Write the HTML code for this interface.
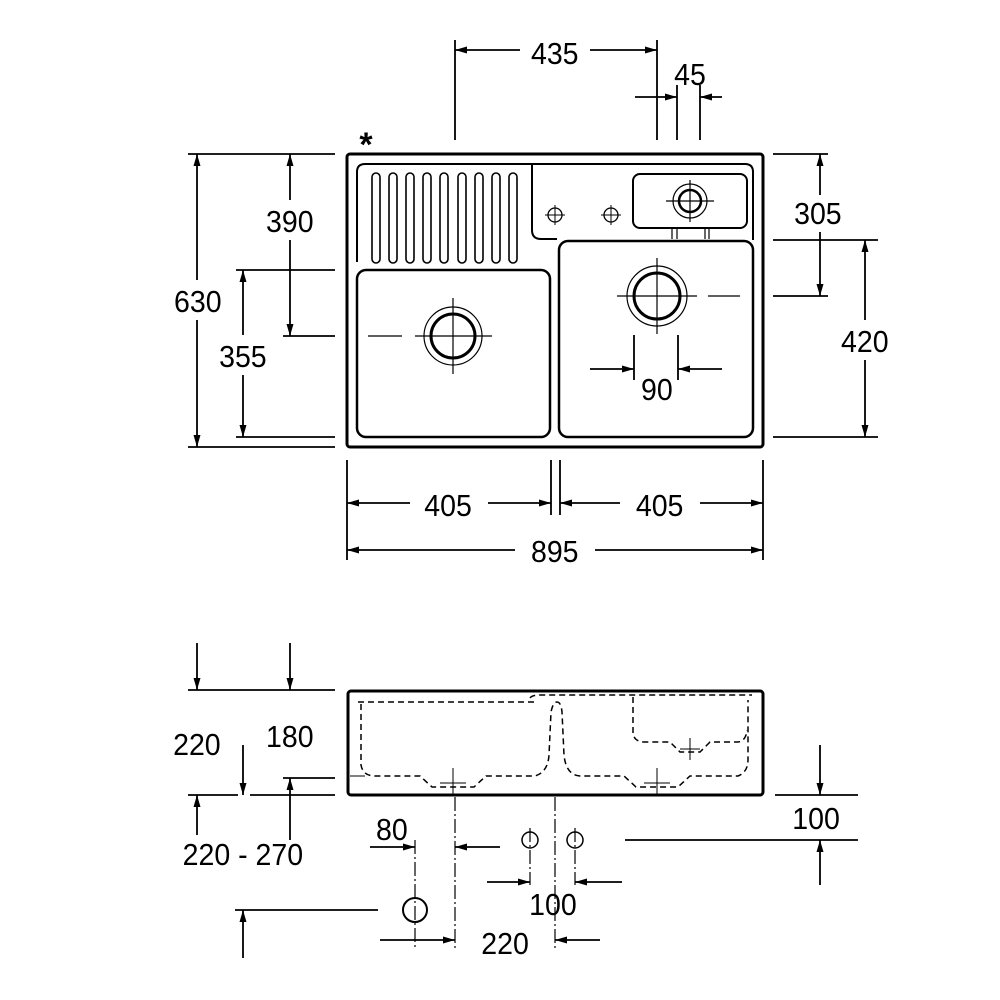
<!DOCTYPE html>
<html><head><style>
html,body{margin:0;padding:0;background:#fff;}
svg{display:block;}
text{font-family:"Liberation Sans",Arial,sans-serif;font-size:31px;fill:#000;text-anchor:middle;}
</style></head><body>
<svg width="1000" height="1000" viewBox="0 0 1000 1000" xmlns="http://www.w3.org/2000/svg">
<defs>
<marker id="a" viewBox="0 0 12 7" refX="12" refY="3.5" markerWidth="12" markerHeight="7" markerUnits="userSpaceOnUse" orient="auto"><path d="M0,0 L12,3.5 L0,7 z" fill="#000"/></marker>
</defs>
<g stroke="#000" fill="none">
<!-- TOP VIEW -->
<rect x="347" y="154" width="416" height="293" rx="3" stroke-width="3"/>
<path d="M365,164 H745 Q753,164 753,172 V240" stroke-width="2"/>
<path d="M357,172 Q357,164 365,164 M357,172 V262" stroke-width="2"/>
<path d="M532,164 V230 Q532,239 541,239 H557" stroke-width="2"/>
<rect x="357" y="270" width="193" height="167" rx="9" stroke-width="2.5"/>
<rect x="559" y="241" width="194" height="196" rx="9" stroke-width="2.5"/>
<rect x="633" y="174" width="114" height="54" rx="7" stroke-width="2"/>
<path d="M672,228V239M677,228V239M705,228V239M709,228V239" stroke-width="1.2"/>
<g stroke-width="1.6">
<rect x="372" y="173" width="8" height="90" rx="4"/><rect x="389" y="173" width="8" height="90" rx="4"/>
<rect x="406" y="173" width="8" height="90" rx="4"/><rect x="423" y="173" width="8" height="90" rx="4"/>
<rect x="440" y="173" width="8" height="90" rx="4"/><rect x="458" y="173" width="8" height="90" rx="4"/>
<rect x="475" y="173" width="8" height="90" rx="4"/><rect x="492" y="173" width="8" height="90" rx="4"/>
<rect x="509" y="173" width="8" height="90" rx="4"/>
</g>
<circle cx="453" cy="336" r="22" stroke-width="3"/><circle cx="453" cy="336" r="29" stroke-width="1.2"/>
<path d="M415,336H492M453,298V374M368,336H402" stroke-width="1.2"/>
<circle cx="657" cy="296" r="23" stroke-width="3"/><circle cx="657" cy="296" r="30" stroke-width="1.2"/>
<path d="M617,296H697M657,258V334M708,296H740" stroke-width="1.2"/>
<circle cx="690" cy="201" r="11" stroke-width="2.5"/><circle cx="690" cy="201" r="17" stroke-width="1.2"/>
<path d="M666,201H714M690,180V222" stroke-width="1.2"/>
<circle cx="555" cy="215" r="7" stroke-width="1.3"/><path d="M545,215H565M555,205V225" stroke-width="1"/>
<circle cx="611" cy="215" r="7" stroke-width="1.3"/><path d="M601,215H621M611,205V225" stroke-width="1"/>

<g stroke-width="1.8">
<path d="M455,40V140M657,40V140M677,85V140M700,85V140"/>
<path d="M520,50H455" marker-end="url(#a)"/><path d="M590,50H657" marker-end="url(#a)"/>
<path d="M635,97H677" marker-end="url(#a)"/><path d="M722,97H700" marker-end="url(#a)"/>
<path d="M188,154H335M188,447H335M283,336H335M236,270H335M236,437H335"/>
<path d="M197,280V154" marker-end="url(#a)"/><path d="M197,320V447" marker-end="url(#a)"/>
<path d="M290,200V154" marker-end="url(#a)"/><path d="M290,240V336" marker-end="url(#a)"/>
<path d="M243,335V270" marker-end="url(#a)"/><path d="M243,375V437" marker-end="url(#a)"/>
<path d="M773,154H828M773,296H828M773,240H878M773,437H878"/>
<path d="M820,195V154" marker-end="url(#a)"/><path d="M820,232V296" marker-end="url(#a)"/>
<path d="M865,320V240" marker-end="url(#a)"/><path d="M865,360V437" marker-end="url(#a)"/>
<path d="M347,460V560M551,460V515M560,460V515M763,460V560"/>
<path d="M410,503H347" marker-end="url(#a)"/><path d="M488,503H551" marker-end="url(#a)"/>
<path d="M620,503H560" marker-end="url(#a)"/><path d="M700,503H763" marker-end="url(#a)"/>
<path d="M515,550H347" marker-end="url(#a)"/><path d="M595,550H763" marker-end="url(#a)"/>
<path d="M634,335V380M678,335V380"/>
<path d="M590,369H634" marker-end="url(#a)"/><path d="M722,369H678" marker-end="url(#a)"/>
</g>

<!-- FRONT VIEW -->
<rect x="348" y="691" width="415" height="104" rx="3" stroke-width="3"/>
<g stroke-width="1.5" stroke-dasharray="6,4">
<path d="M358,702H535"/>
<path d="M530,698Q532,695 540,695H752"/>
<path d="M361,704V765Q363,776 375,776H420L432,787H474L486,776H535Q548,772 549,755L551,712Q553,702 557,702Q561,702 562,712L564,755Q566,775 580,776H624L636,787H678L690,776H738Q748,772 748,760V700"/>
<path d="M633,697V733Q634,742 645,742H670L680,752H700L710,742H738Q746,741 747,730"/>
</g>
<g stroke-width="1">
<path d="M453,768V795M657,768V795M690,738V760M680,749H700M440,783H466M644,783H670"/>
<path d="M350,776H365"/>
</g>

<g stroke-width="1.8">
<path d="M188,690H335M188,795H238M250,795H335M283,778H335"/>
<path d="M197,643V690" marker-end="url(#a)"/><path d="M290,643V690" marker-end="url(#a)"/>
<path d="M243,745V795" marker-end="url(#a)"/><path d="M290,840V778" marker-end="url(#a)"/>
<path d="M197,835V795" marker-end="url(#a)"/>
<path d="M235,910H378"/><path d="M243,958V910" marker-end="url(#a)"/>
<path d="M775,795H858M625,840H858"/>
<path d="M820,745V795" marker-end="url(#a)"/><path d="M820,885V840" marker-end="url(#a)"/>
<path d="M370,847H415" marker-end="url(#a)"/><path d="M500,847H455" marker-end="url(#a)"/>
<path d="M487,882H530" marker-end="url(#a)"/><path d="M622,882H575" marker-end="url(#a)"/>
<path d="M380,940H455" marker-end="url(#a)"/><path d="M600,940H555" marker-end="url(#a)"/>
</g>
<g stroke-width="1.2" stroke-dasharray="14,3,2,3">
<path d="M415,840V950M455,797V950M555,797V950M530,828V885M575,828V885"/>
</g>
<circle cx="415" cy="910" r="12" stroke-width="2"/>
<circle cx="530" cy="840" r="8" stroke-width="1.5"/>
<circle cx="575" cy="840" r="8" stroke-width="1.5"/>
</g>

<g transform="scale(0.92,1)">
<text x="603" y="64">435</text>
<text x="750" y="85">45</text>
<text x="215" y="312">630</text>
<text x="315" y="232">390</text>
<text x="264" y="367">355</text>
<text x="889" y="224">305</text>
<text x="940" y="352">420</text>
<text x="487" y="516">405</text>
<text x="717" y="516">405</text>
<text x="603" y="562">895</text>
<text x="714" y="400">90</text>
<text x="214" y="755">220</text>
<text x="315" y="747">180</text>
<text x="264" y="865">220 - 270</text>
<text x="426" y="840">80</text>
<text x="601" y="915">100</text>
<text x="549" y="954">220</text>
<text x="887" y="829">100</text>
</g>
<text x="366" y="156" style="font-size:34px;font-weight:bold">*</text>
</svg>
</body></html>
